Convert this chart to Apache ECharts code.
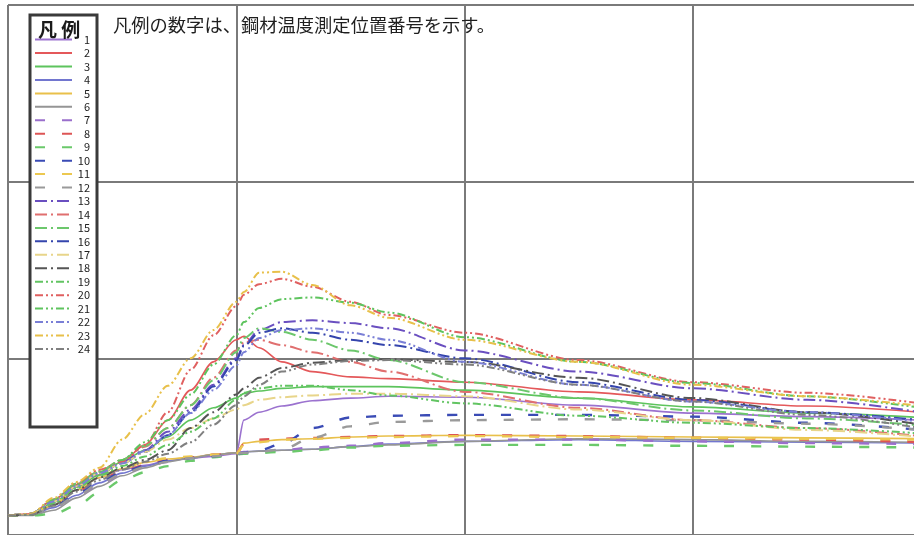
<!DOCTYPE html>
<html>
<head>
<meta charset="utf-8">
<script src="https://cdn.jsdelivr.net/npm/echarts@6/dist/echarts.min.js"></script>
<style>
  html, body { margin: 0; padding: 0; background: #fff; }
  #chart { width: 914px; height: 535px; }
</style>
</head>
<body>
<div id="chart"></div>
<script>
// Elapsed time (min) shared by every measuring point
const minutes = [0, 3, 6, 9, 12, 15, 18, 21, 24, 27, 30, 31, 33, 36, 40, 45, 50, 60, 75, 90, 105, 120];

// Steel temperature (°C) at each measuring point
const p1  = [22, 23, 34, 51, 65, 74, 79, 84, 87, 89, 92, 130, 139, 146, 152, 155, 157, 156, 147, 138, 134, 130];
const p2  = [22, 24, 40, 57, 68, 83, 102, 130, 164, 196, 221, 225, 212, 196, 185, 179, 177, 173, 162, 153, 146, 139];
const p3  = [22, 23, 37, 54, 68, 83, 96, 111, 130, 144, 155, 160, 163, 166, 168, 168, 168, 164, 155, 145, 138, 133];
const p4  = [22, 23, 31, 45, 59, 70, 78, 84, 87, 91, 93, 94, 95, 96, 97, 100, 103, 106, 108, 106, 105, 104];
const p5  = [22, 23, 34, 51, 65, 75, 82, 86, 88, 91, 93, 104, 106, 108, 109, 111, 112, 113, 112, 111, 110, 109];
const p6  = [22, 22, 28, 42, 55, 67, 76, 83, 87, 91, 93, 94, 95, 96, 97, 100, 102, 106, 109, 108, 106, 105];
const p7  = [22, 23, 31, 44, 57, 69, 77, 83, 87, 89, 92, 94, 95, 96, 99, 101, 104, 108, 108, 106, 104, 103];
const p8  = [22, 23, 34, 49, 62, 72, 79, 85, 88, 91, 92, 103, 108, 109, 110, 111, 112, 113, 112, 110, 108, 105];
const p9  = [22, 22, 24, 33, 48, 62, 71, 78, 84, 88, 91, 92, 93, 94, 96, 99, 101, 102, 102, 101, 100, 99];
const p10 = [22, 23, 32, 46, 60, 71, 78, 84, 87, 89, 92, 93, 96, 103, 121, 133, 135, 136, 136, 134, 127, 119];
const p11 = [22, 23, 35, 52, 66, 76, 83, 87, 89, 91, 92, 102, 105, 108, 109, 110, 111, 112, 111, 110, 109, 108];
const p12 = [22, 23, 31, 44, 58, 69, 77, 83, 87, 89, 92, 93, 94, 97, 110, 123, 128, 130, 131, 130, 126, 119];
const p13 = [22, 24, 40, 58, 71, 83, 96, 117, 142, 170, 200, 215, 232, 241, 243, 240, 234, 209, 185, 166, 153, 139];
const p14 = [22, 24, 40, 58, 72, 85, 100, 121, 147, 178, 209, 218, 221, 215, 207, 196, 185, 162, 144, 130, 121, 112];
const p15 = [22, 24, 40, 58, 72, 85, 101, 121, 147, 175, 207, 223, 234, 230, 221, 209, 198, 173, 155, 141, 132, 124];
const p16 = [22, 24, 38, 55, 70, 81, 94, 113, 139, 168, 198, 214, 229, 234, 229, 221, 215, 200, 173, 153, 139, 130];
const p17 = [22, 24, 38, 55, 70, 81, 94, 108, 121, 132, 142, 147, 153, 156, 158, 160, 160, 157, 142, 130, 119, 111];
const p18 = [22, 23, 34, 51, 65, 76, 85, 96, 121, 139, 159, 166, 178, 189, 195, 198, 199, 196, 178, 155, 139, 125];
const p19 = [22, 23, 36, 53, 67, 78, 89, 102, 117, 132, 153, 161, 166, 169, 169, 164, 158, 149, 135, 127, 121, 115];
const p20 = [22, 24, 40, 58, 74, 83, 102, 139, 187, 226, 259, 272, 284, 290, 281, 264, 249, 229, 198, 173, 161, 149];
const p21 = [22, 24, 40, 57, 71, 85, 105, 130, 159, 193, 226, 241, 257, 267, 269, 263, 252, 224, 196, 172, 157, 144];
const p22 = [22, 24, 38, 55, 70, 81, 95, 113, 138, 164, 192, 207, 223, 232, 234, 229, 221, 196, 170, 151, 139, 128];
const p23 = [22, 24, 42, 60, 76, 108, 137, 169, 200, 232, 264, 275, 297, 298, 283, 260, 246, 221, 196, 170, 157, 146];
const p24 = [22, 23, 33, 49, 62, 74, 83, 92, 105, 125, 147, 157, 170, 185, 193, 197, 198, 193, 170, 151, 136, 121];

const pointNames = ['1','2','3','4','5','6','7','8','9','10','11','12',
                    '13','14','15','16','17','18','19','20','21','22','23','24'];
const pointValues = [p1,p2,p3,p4,p5,p6,p7,p8,p9,p10,p11,p12,
                     p13,p14,p15,p16,p17,p18,p19,p20,p21,p22,p23,p24];

const pointColors = [
  '#9b72cf', '#e4585a', '#5dc45d', '#7276cf', '#e9c04a', '#959595',
  '#9a6fcc', '#dd5555', '#6bc96b', '#3a4bb5', '#ecc850', '#9a9a9a',
  '#6a4fc0', '#e06f6f', '#6cc76c', '#3545ad', '#e8d58a', '#555555',
  '#62c462', '#e06060', '#5ec45e', '#7a7fd6', '#e8c04a', '#808080'
];

// line pattern per block of six points: solid, dashed, dash-dot, dash-dot-dot
const patterns = [
  { type: 'solid', width: 1.6 },
  { type: [10, 17], width: 2.4 },
  { type: [12, 4, 2, 4], width: 2.0 },
  { type: [8, 3, 2, 3, 2, 3], width: 2.0 }
];

const FONT = '"Noto Sans CJK JP", "Noto Sans", sans-serif';

const series = pointNames.map((name, i) => {
  const pat = patterns[Math.floor(i / 6)];
  return {
    name: name,
    type: 'line',
    data: minutes.map((t, k) => [t, pointValues[i][k]]),
    symbol: 'none',
    showSymbol: false,
    smooth: 0.3,
    smoothMonotone: 'x',
    color: pointColors[i],
    lineStyle: { color: pointColors[i], width: pat.width, type: pat.type },
    emphasis: { disabled: true },
    z: 2
  };
});

const chart = echarts.init(document.getElementById('chart'), null, { renderer: 'canvas' });

chart.setOption({
  animation: false,
  backgroundColor: '#ffffff',
  textStyle: { fontFamily: FONT },
  grid: { left: 8, top: 5, width: 913, height: 530, containLabel: false, outerBoundsMode: 'none' },
  xAxis: {
    type: 'value', min: 0, max: 120, interval: 30,
    axisLine: { show: false }, axisTick: { show: false }, axisLabel: { show: false },
    splitLine: { show: true, showMinLine: true, lineStyle: { color: '#7a7a7a', width: 2 } }
  },
  yAxis: {
    type: 'value', min: 0, max: 600, interval: 200,
    axisLine: { show: false }, axisTick: { show: false }, axisLabel: { show: false },
    splitLine: { show: true, showMaxLine: true, lineStyle: { color: '#7a7a7a', width: 2 } }
  },
  legend: {
    data: pointNames,
    orient: 'vertical',
    left: 34,
    top: 34,
    padding: 0,
    itemWidth: 37,
    itemHeight: 14,
    itemGap: 2.25,
    selectedMode: false,
    z: 20,
    itemStyle: { color: 'rgba(0,0,0,0)', borderWidth: 0, opacity: 0 },
    formatter: '{n|{name}}',
    textStyle: {
      fontFamily: FONT,
      rich: { n: { width: 13, align: 'right', fontSize: 11, color: '#222', fontFamily: FONT, lineHeight: 14 } }
    }
  },
  graphic: [
    {
      type: 'rect', z: 10,
      shape: { x: 30, y: 15, width: 67, height: 412 },
      style: { fill: '#ffffff', stroke: '#3a3a3a', lineWidth: 3 }
    },
    {
      type: 'text', z: 21, left: 38, top: 20,
      style: { text: '凡 例', fontFamily: FONT, fontSize: 19, fontWeight: 'bold', fill: '#1a1a1a' }
    },
    {
      type: 'text', z: 21, left: 113, top: 16,
      style: { text: '凡例の数字は、鋼材温度測定位置番号を示す。', fontFamily: FONT, fontSize: 18.3, fill: '#1e1e1e' }
    }
  ],
  series: series
});
</script>
</body>
</html>
